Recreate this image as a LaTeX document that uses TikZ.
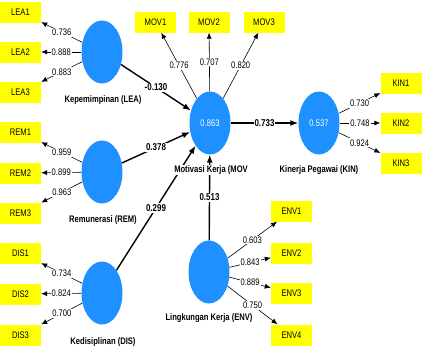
\documentclass[tikz,border=0pt]{standalone}
\usepackage{fontspec}
\setmainfont{Liberation Sans}[FakeStretch=0.8]
\usetikzlibrary{shapes.geometric,arrows.meta}
\definecolor{lvblue}{RGB}{30,144,255}
\definecolor{mvyellow}{RGB}{255,255,0}

\begin{document}
\begin{tikzpicture}[>={Latex[length=6bp,width=5bp]},line join=bevel,
  font=\fontsize{9.5bp}{11bp}\selectfont,
  latent/.style={ellipse,fill=lvblue,text=white,minimum width=41bp,minimum height=63bp,inner sep=0pt},
  manifest/.style={rectangle,fill=mvyellow,minimum width=41bp,minimum height=21bp,inner sep=0pt},
  lvname/.style={fill=white,inner sep=1bp,font=\fontsize{9.5bp}{11bp}\selectfont\bfseries},
  loading/.style={->,line width=0.6bp},
  inner/.style={-{Latex[length=8bp,width=6bp]},line width=1.4bp},
  coef/.style={fill=white,inner sep=1bp,pos=0.5},
  ]
\useasboundingbox (0bp,0bp) rectangle (422bp,-349bp);
%% latent variables
\node (lea) at (102bp,-52bp) [latent] {};
\node (rem) at (102bp,-172bp) [latent] {};
\node (dis) at (102bp,-293bp) [latent] {};
\node (mov) at (210bp,-123bp) [latent] {0.863};
\node (kin) at (319bp,-123bp) [latent] {0.537};
\node (env) at (209bp,-272bp) [latent] {};
%% indicators
\node (lea_1) at (20.5bp,-12bp) [manifest] {LEA1};
\node (lea_2) at (20.5bp,-52bp) [manifest] {LEA2};
\node (lea_3) at (20.5bp,-92bp) [manifest] {LEA3};
\node (rem_1) at (20.5bp,-132bp) [manifest] {REM1};
\node (rem_2) at (20.5bp,-173bp) [manifest] {REM2};
\node (rem_3) at (20.5bp,-213bp) [manifest] {REM3};
\node (dis_1) at (20.5bp,-253bp) [manifest] {DIS1};
\node (dis_2) at (20.5bp,-294bp) [manifest] {DIS2};
\node (dis_3) at (20.5bp,-335bp) [manifest] {DIS3};
\node (mov_1) at (155.5bp,-22bp) [manifest] {MOV1};
\node (mov_2) at (209bp,-22bp) [manifest] {MOV2};
\node (mov_3) at (264bp,-22bp) [manifest] {MOV3};
\node (kin_1) at (401bp,-83bp) [manifest] {KIN1};
\node (kin_2) at (401bp,-123bp) [manifest] {KIN2};
\node (kin_3) at (401bp,-163bp) [manifest] {KIN3};
\node (env_1) at (291.5bp,-211bp) [manifest] {ENV1};
\node (env_2) at (291.5bp,-253bp) [manifest] {ENV2};
\node (env_3) at (291.5bp,-293bp) [manifest] {ENV3};
\node (env_4) at (291.5bp,-335bp) [manifest] {ENV4};
%% outer loadings
\draw [loading] (lea) -- node [coef] {0.736} (lea_1);
\draw [loading] (lea) -- node [coef] {0.888} (lea_2);
\draw [loading] (lea) -- node [coef] {0.883} (lea_3);
\draw [loading] (rem) -- node [coef] {0.959} (rem_1);
\draw [loading] (rem) -- node [coef] {0.899} (rem_2);
\draw [loading] (rem) -- node [coef] {0.963} (rem_3);
\draw [loading] (dis) -- node [coef] {0.734} (dis_1);
\draw [loading] (dis) -- node [coef] {0.824} (dis_2);
\draw [loading] (dis) -- node [coef] {0.700} (dis_3);
\draw [loading] (mov) -- node [coef] {0.776} (mov_1);
\draw [loading] (mov) -- node [coef] {0.707} (mov_2);
\draw [loading] (mov) -- node [coef] {0.820} (mov_3);
\draw [loading] (kin) -- node [coef] {0.730} (kin_1);
\draw [loading] (kin) -- node [coef] {0.748} (kin_2);
\draw [loading] (kin) -- node [coef] {0.924} (kin_3);
\draw [loading] (env) -- node [coef] {0.603} (env_1);
\draw [loading] (env) -- node [coef] {0.843} (env_2);
\draw [loading] (env) -- node [coef] {0.889} (env_3);
\draw [loading] (env) -- node [coef] {0.750} (env_4);
%% path coefficients
\draw [inner] (lea) -- node [coef,font=\bfseries] {-0.130} (mov);
\draw [inner] (rem) -- node [coef,font=\bfseries] {0.378} (mov);
\draw [inner] (dis) -- node [coef,font=\bfseries] {0.299} (mov);
\draw [inner] (env) -- node [coef,font=\bfseries] {0.513} (mov);
\draw [inner] (mov) -- node [coef,font=\bfseries] {0.733} (kin);
%% construct names
\node (lea_name) at (103bp,-100bp) [lvname] {Kepemimpinan (LEA)};
\node (rem_name) at (103bp,-220bp) [lvname] {Remunerasi (REM)};
\node (dis_name) at (103bp,-342bp) [lvname] {Kedisiplinan (DIS)};
\node (mov_name) at (211bp,-170bp) [lvname] {Motivasi Kerja (MOV};
\node (kin_name) at (319bp,-170bp) [lvname] {Kinerja Pegawai (KIN)};
\node (env_name) at (209bp,-318bp) [lvname] {Lingkungan Kerja (ENV)};
%
\end{tikzpicture}
\end{document}
